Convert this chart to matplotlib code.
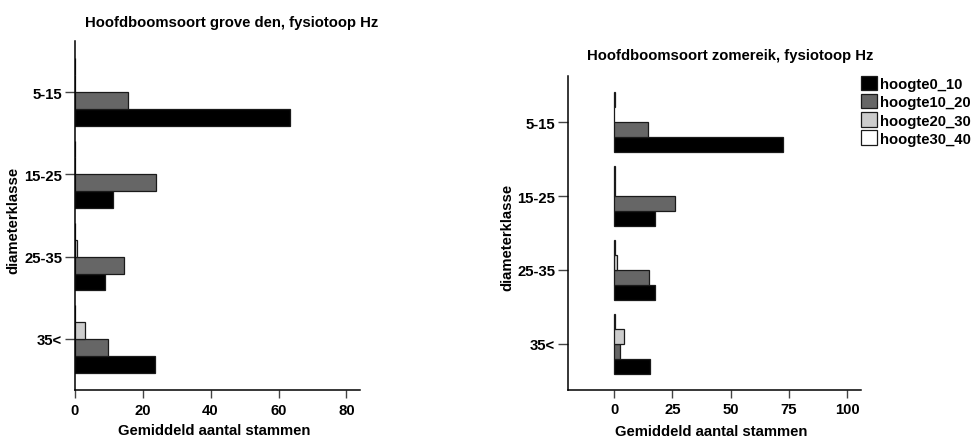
import matplotlib
matplotlib.use("Agg")
import matplotlib.pyplot as plt
import numpy as np

plt.rcParams["font.family"] = ["Liberation Sans", "DejaVu Sans"]
plt.rcParams["font.weight"] = "bold"

categories = ["5-15", "15-25", "25-35", "35<"]
series = ["hoogte0_10", "hoogte10_20", "hoogte20_30", "hoogte30_40"]
colors = ["#000000", "#666666", "#cccccc", "#ffffff"]

# grove den
den_h0_10 = [63.4, 11.3, 8.9, 23.5]
den_h10_20 = [15.6, 23.8, 14.5, 9.8]
den_h20_30 = [0.05, 0.05, 0.8, 2.9]
den_h30_40 = [0.12, 0.1, 0.08, 0.08]

# zomereik
eik_h0_10 = [72.5, 17.3, 17.3, 15.2]
eik_h10_20 = [14.4, 25.9, 14.9, 2.6]
eik_h20_30 = [0.05, 0.5, 1.2, 4.2]
eik_h30_40 = [0.2, 0.2, 0.2, 0.2]

fig = plt.figure(figsize=(9.76, 4.39), dpi=100)
ax1 = fig.add_axes([0.0765, 0.1093, 0.2924, 0.795])
ax2 = fig.add_axes([0.5817, 0.11, 0.3005, 0.7139])

bar_h = 0.205
offsets = [1.5 * bar_h, 0.5 * bar_h, -0.5 * bar_h, -1.5 * bar_h]
y = np.arange(len(categories))


def draw(ax, data, xlim, xticks):
    for vals, col, off, name in zip(data, colors, offsets, series):
        ax.barh(y + off, vals, height=bar_h, color=col, edgecolor="#1a1a1a",
                linewidth=0.9, label=name)
    ax.set_ylim(len(categories) - 1 + 0.62, -0.62)
    ax.set_xlim(*xlim)
    ax.set_yticks(y)
    ax.set_yticklabels(categories)
    ax.set_xticks(xticks)
    for s in ["top", "right"]:
        ax.spines[s].set_visible(False)
    for s in ["left", "bottom"]:
        ax.spines[s].set_linewidth(1.1)
    ax.tick_params(axis="y", length=7, width=1.0, color="#444444", labelsize=10.7, pad=2)
    ax.tick_params(axis="x", length=6, width=1.0, color="#444444", labelsize=10.7, pad=3)


draw(ax1, [den_h0_10, den_h10_20, den_h20_30, den_h30_40], (0, 84), [0, 20, 40, 60, 80])
draw(ax2, [eik_h0_10, eik_h10_20, eik_h20_30, eik_h30_40], (-20, 106), [0, 25, 50, 75, 100])

fig.text(232 / 976, 1 - 23 / 439, "Hoofdboomsoort grove den, fysiotoop Hz",
         ha="center", va="center", fontsize=10.7, fontweight="bold")
fig.text(730 / 976, 1 - 56 / 439, "Hoofdboomsoort zomereik, fysiotoop Hz",
         ha="center", va="center", fontsize=10.7, fontweight="bold")

fig.text(214 / 976, 1 - 431 / 439, "Gemiddeld aantal stammen",
         ha="center", va="center", fontsize=10.7, fontweight="bold")
fig.text(711 / 976, 1 - 432 / 439, "Gemiddeld aantal stammen",
         ha="center", va="center", fontsize=10.7, fontweight="bold")
fig.text(13 / 976, 1 - 220 / 439, "diameterklasse", rotation=90,
         ha="center", va="center", fontsize=10.7, fontweight="bold")
fig.text(507 / 976, 1 - 237 / 439, "diameterklasse", rotation=90,
         ha="center", va="center", fontsize=10.7, fontweight="bold")

handles, labels = ax2.get_legend_handles_labels()
fig.legend(handles, labels, loc="upper left", bbox_to_anchor=(861 / 976, 1 - 77 / 439),
           frameon=False, fontsize=10.7, handlelength=1.1, handleheight=1.1,
           handletextpad=0.2, labelspacing=0.2, borderpad=0, borderaxespad=0)

fig.savefig("out.png", dpi=100)
